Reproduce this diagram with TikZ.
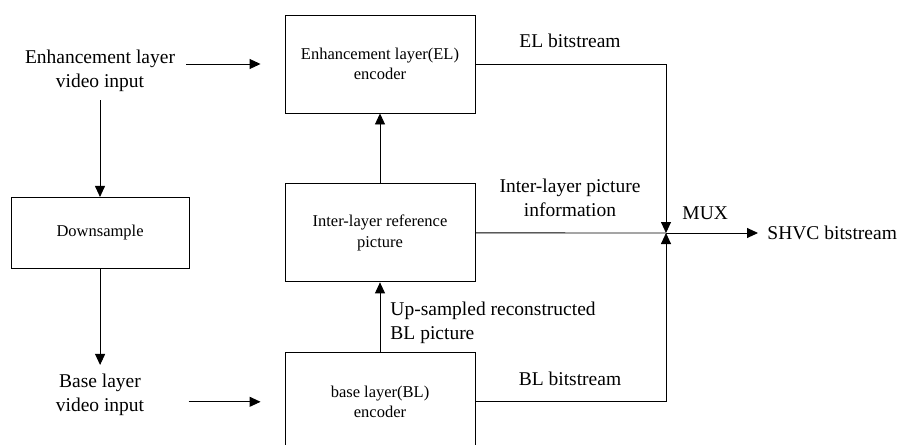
\documentclass[tikz,border=0pt]{standalone}
\usepackage{fontspec}
\setmainfont{Liberation Serif}
\usetikzlibrary{arrows.meta,positioning}

\begin{document}
\begin{tikzpicture}[x=1pt, y=-1pt, node distance=70pt, line width=0.9pt,
    >={Triangle[length=11pt,width=10pt]},
    block/.style = {draw, minimum width=190pt, minimum height=98pt, align=center,
      font=\fontsize{16.5}{20.5}\selectfont},
    lbl/.style = {inner sep=0pt, align=center, font=\fontsize{19.5}{23.5}\selectfont}]
    \clip (0,0) rectangle (901,444);

    % encoders
    \node[block] (el) at (380,64) {Enhancement layer(EL)\\encoder};
    \node[block] (inter) [below=of el] {Inter-layer reference\\picture};
    \node[block] (bl) [below=of inter] {base layer(BL)\\encoder};
    \node[block, minimum width=178pt, minimum height=71pt] (down) [left=95pt of inter] {Downsample};

    % inputs
    \node[lbl] (elin) at (100,71) {Enhancement layer\\video input};
    \node[lbl] (blin) at (100,395) {Base layer\\video input};

    \coordinate (mux) at (666,233);

    \draw[->, shorten <=11pt, shorten >=24pt] (elin.east |- el.west) -- (el.west);
    \draw[->, shorten <=44pt, shorten >=24pt] (blin.east |- bl.west) -- (bl.west);
    \draw[->, shorten <=8pt] (elin.south) -- (elin.south |- down.north);
    \draw[->, shorten >=9pt] (down.south) -- (down.south |- blin.north);

    \draw[->] (inter) -- (el);
    \draw[->] (bl) -- (inter);

    % streams into the mux
    \draw[->] (el.east) -- (el.east -| mux) -- (mux);
    \draw (inter.east) -- (mux);
    \draw[->] (bl.east) -- (bl.east -| mux) -- (mux);
    \coordinate (out) at (758,233);
    \draw[->] (mux) -- (out);

    % labels
    \node[lbl, anchor=base] (elbits) at (570,48) {EL bitstream};
    \node[lbl, anchor=north] (interinfo) at (570,179) {Inter-layer picture\\information};
    \node[lbl, anchor=base] (blbits) at (570,385) {BL bitstream};
    \node[lbl, anchor=north west, align=left] (upbl) at (390,302) {Up-sampled reconstructed\\BL picture};
    \node[lbl, anchor=base west] (muxlbl) at (682,219) {MUX};
    \node[lbl, anchor=base west] (shvc) at (767,239) {SHVC bitstream};
\end{tikzpicture}
\end{document}
